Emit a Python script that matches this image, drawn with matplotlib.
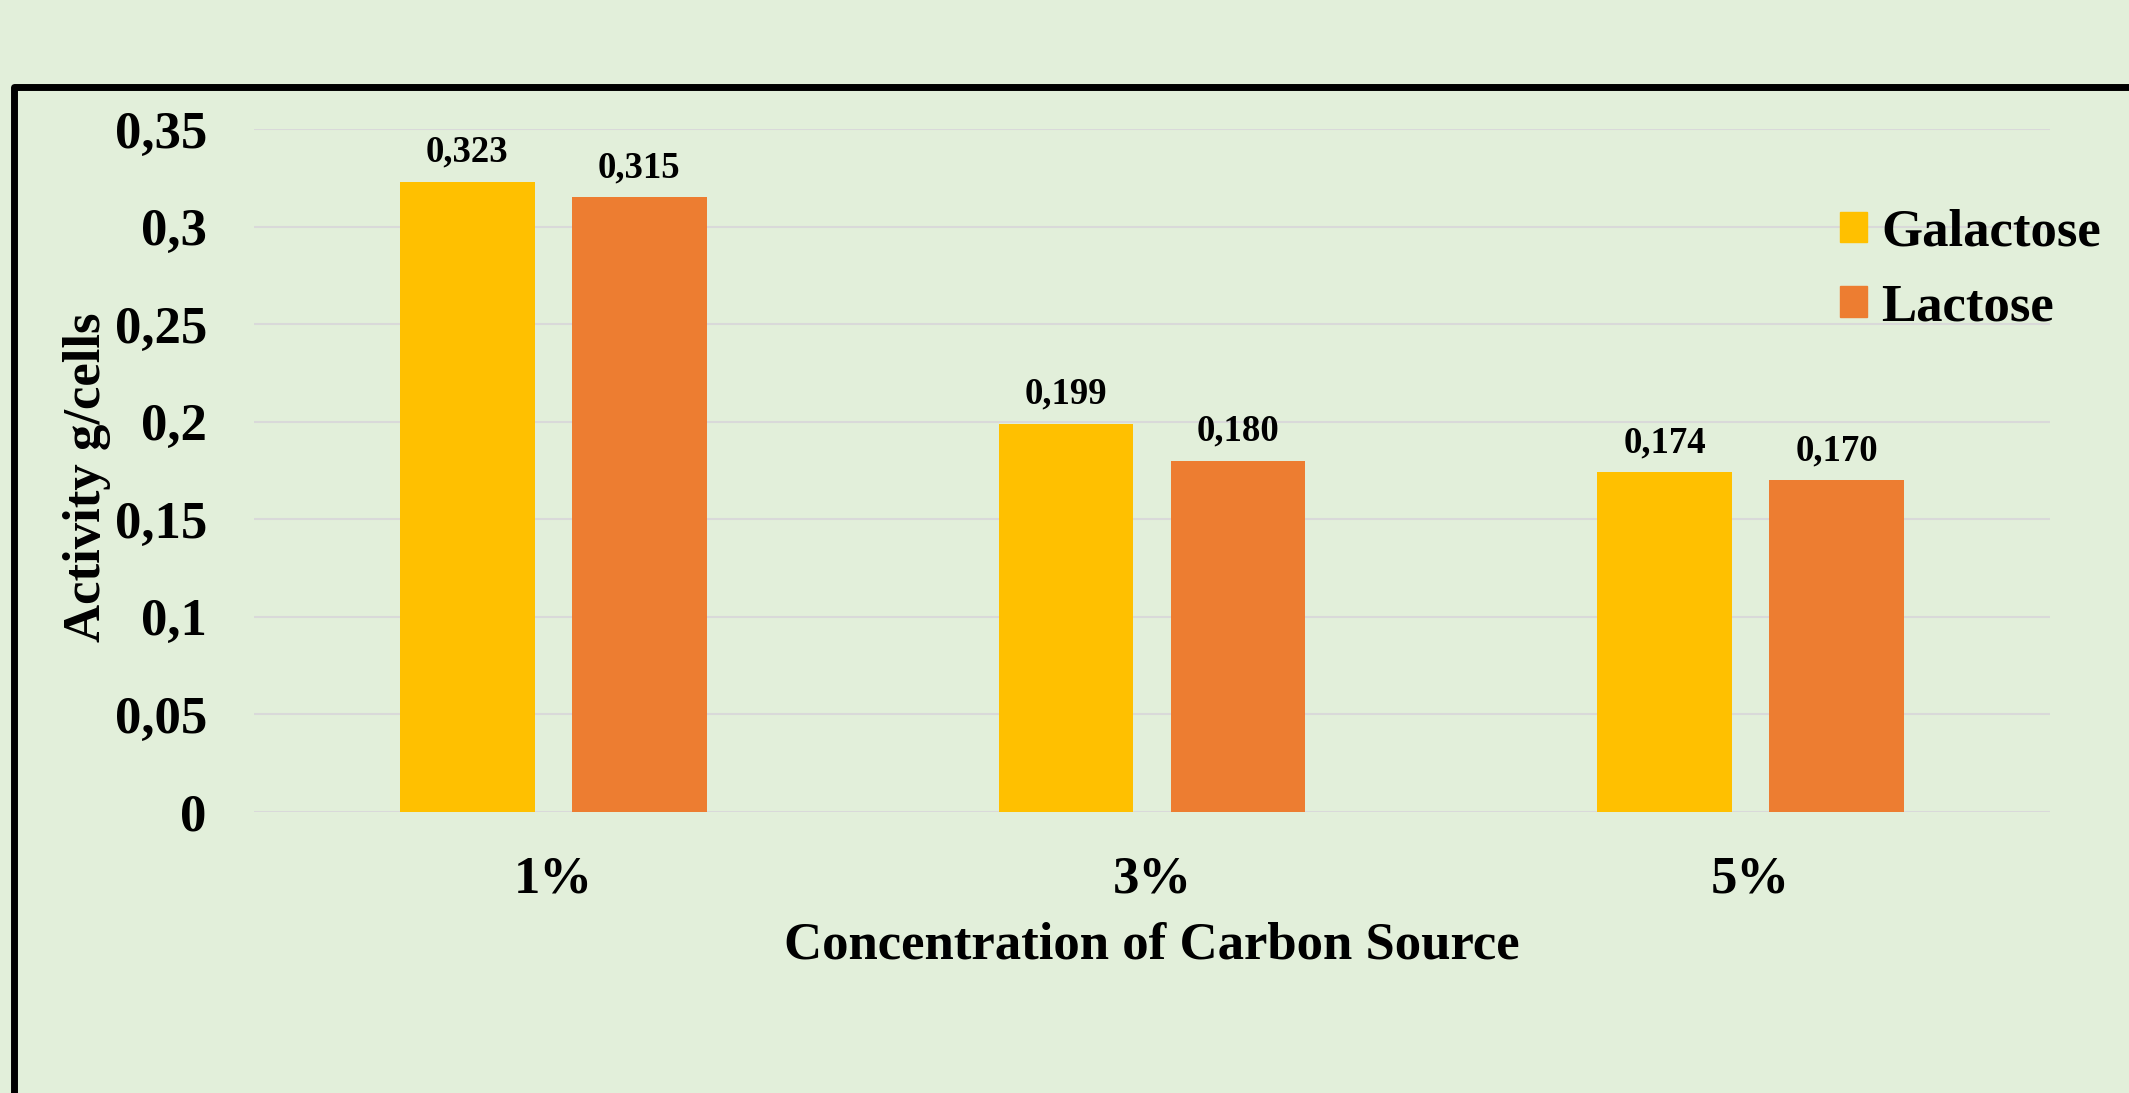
import matplotlib.pyplot as plt
from matplotlib.patches import Patch, Rectangle
from matplotlib.ticker import FuncFormatter, MultipleLocator
import numpy as np

concentrations = ["1%", "3%", "5%"]
galactose = [0.323, 0.199, 0.174]
lactose = [0.315, 0.180, 0.170]
series_names = ["Galactose", "Lactose"]

bg = '#E2EFDA'
colors = ['#FFC000', '#ED7D31']

plt.rcParams['font.family'] = 'Liberation Serif'
plt.rcParams['font.weight'] = 'bold'

fig = plt.figure(figsize=(21.29, 10.93), dpi=100, facecolor=bg)
ax = fig.add_axes([254/2129, 1 - 812/1093, 1796/2129, 683/1093], facecolor=bg)

x = np.arange(len(concentrations))
w = 0.225
off = 0.1436
for vals, col, name, dx in [(galactose, colors[0], series_names[0], -off),
                            (lactose, colors[1], series_names[1], off)]:
    bars = ax.bar(x + dx, vals, width=w, color=col, zorder=3)
    for b, v in zip(bars, vals):
        ax.annotate(f"{v:.3f}".replace('.', ','), (b.get_x() + b.get_width()/2, v),
                    xytext=(0, 8.5), textcoords='offset points', ha='center', va='bottom',
                    fontsize=26.5, fontweight='bold')

ax.set_xlim(-0.5, 2.5)
ax.set_ylim(0, 0.35)
ax.yaxis.set_major_locator(MultipleLocator(0.05))
ax.yaxis.set_major_formatter(FuncFormatter(lambda v, p: f"{v:g}".replace('.', ',')))
ax.set_xticks(x)
ax.set_xticklabels(concentrations)
ax.tick_params(axis='both', length=0, labelsize=38)
ax.tick_params(axis='y', pad=34)
ax.tick_params(axis='x', pad=31)
ax.grid(axis='y', color='#D9D9D9', linewidth=1.5, zorder=0)
ax.set_axisbelow(True)
for s in ax.spines.values():
    s.set_visible(False)

ax.set_xlabel("Concentration of Carbon Source", fontsize=38, fontweight='bold', va='center')
ax.xaxis.set_label_coords(0.5, -0.195)
ax.set_ylabel("Activity g/cells", fontsize=38, fontweight='bold', va='center')
ax.yaxis.set_label_coords(-0.093, 0.49)

handles = [Patch(color=c) for c in colors]
ax.legend(handles, series_names, loc='center left', bbox_to_anchor=(1840/2129, 1 - 270/1093),
          bbox_transform=fig.transFigure, frameon=False, fontsize=38,
          handlelength=0.51, handleheight=0.51, handletextpad=0.27, labelspacing=0.5,
          borderpad=0, borderaxespad=0)

# outer chart border, running off the right and bottom edges
fig.patches.append(Rectangle((13.5, -40), 2300, 1093 - 86.5 + 40, transform=None,
                             fill=False, edgecolor='black', linewidth=5, joinstyle='round'))

fig.savefig('out.png', dpi=100, facecolor=bg)
